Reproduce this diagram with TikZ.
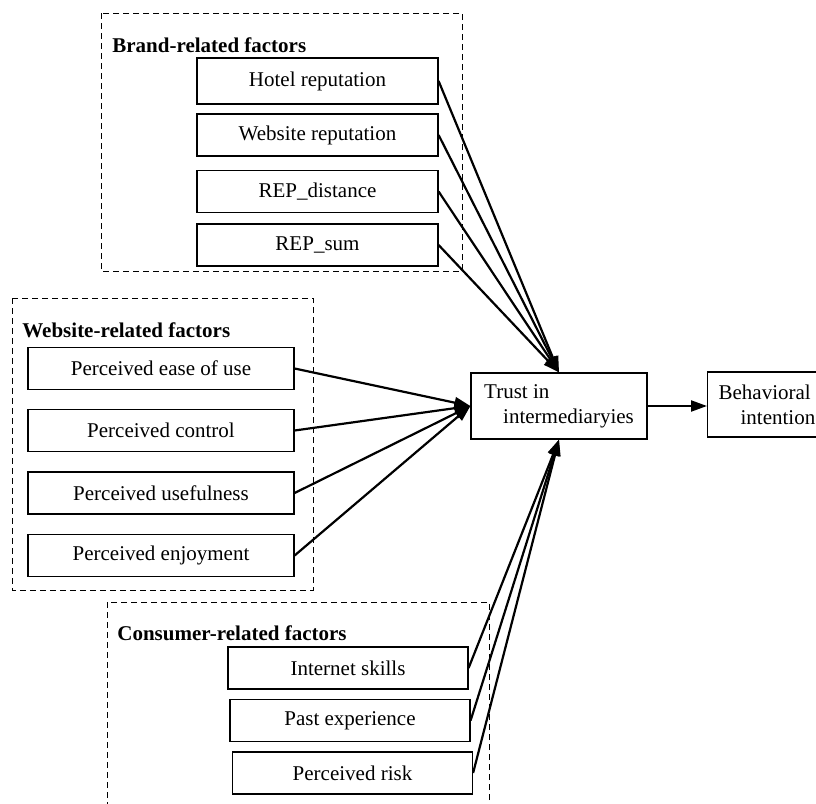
\documentclass[tikz,border=0pt]{standalone}
\usepackage{fontspec}
\setmainfont{Liberation Serif}
\usetikzlibrary{arrows.meta}

\begin{document}
\begin{tikzpicture}[x=0.5pt,y=-0.5pt,
  factor/.style={draw,line width=0.6pt,minimum height=21pt,inner sep=0pt,
    font=\fontsize{10.5}{12.6}\selectfont},
  group/.style={line width=0.5pt,dash pattern=on 3pt off 2pt},
  title/.style={anchor=base west,inner sep=0pt,font=\fontsize{10.5}{12.6}\selectfont\bfseries},
  link/.style={line width=1.1pt,-{Triangle[length=8pt,width=5.5pt]}}]
\clip (0,0) rectangle (816,804);
%\draw (0,0) grid[step=50] (816,804);
% groups
\draw[group] (101,13) rectangle (462,271);
\draw[group] (12,298) rectangle (313,590);
\draw[group] (107,602) rectangle (489,830);
\node[title] (brand) at (112,52) {Brand-related factors};
\node[title] (web) at (22,337) {Website-related factors};
\node[title] (cons) at (117,640) {Consumer-related factors};
% brand
\node[factor,minimum width=120.5pt,minimum height=23pt] (hotel) at (317.5,81) {Hotel reputation};
\node[factor,minimum width=120.5pt] (webrep) at (317.5,135) {Website reputation};
\node[factor,minimum width=120.5pt] (repdist) at (317.5,191.5) {REP\_distance};
\node[factor,minimum width=120.5pt] (repsum) at (317.5,245) {REP\_sum};
% website
\node[factor,minimum width=133pt] (ease) at (161,368.5) {Perceived ease of use};
\node[factor,minimum width=133pt] (control) at (161,430.5) {Perceived control};
\node[factor,minimum width=133pt] (useful) at (161,493) {Perceived usefulness};
\node[factor,minimum width=133pt] (enjoy) at (161,555.5) {Perceived enjoyment};
% consumer
\node[factor,minimum width=120pt] (skills) at (348,668) {Internet skills};
\node[factor,minimum width=120pt] (past) at (350,720.5) {Past experience};
\node[factor,minimum width=120pt] (risk) at (352.5,773) {Perceived risk};
% outcome
\node[factor,minimum width=88pt,minimum height=33pt,align=left] (trust) at (559,406)
  {Trust in\\\hspace*{9.5pt}intermediaryies};
\node[factor,inner xsep=5.5pt,minimum height=32.5pt,align=left,anchor=west] (behav) at (707,404.5)
  {Behavioral\\\hspace*{11pt}intention};
\draw[link] (hotel.east) -- (trust.north);
\draw[link] (webrep.east) -- (trust.north);
\draw[link] (repdist.east) -- (trust.north);
\draw[link] (repsum.east) -- (trust.north);
\draw[link] (ease.east) -- (trust.west);
\draw[link] (control.east) -- (trust.west);
\draw[link] (useful.east) -- (trust.west);
\draw[link] (enjoy.east) -- (trust.west);
\draw[link] (skills.east) -- (trust.south);
\draw[link] (past.east) -- (trust.south);
\draw[link] (risk.east) -- (trust.south);
\draw[link] (trust.east) -- (trust.east-|behav.west);
\end{tikzpicture}
\end{document}
